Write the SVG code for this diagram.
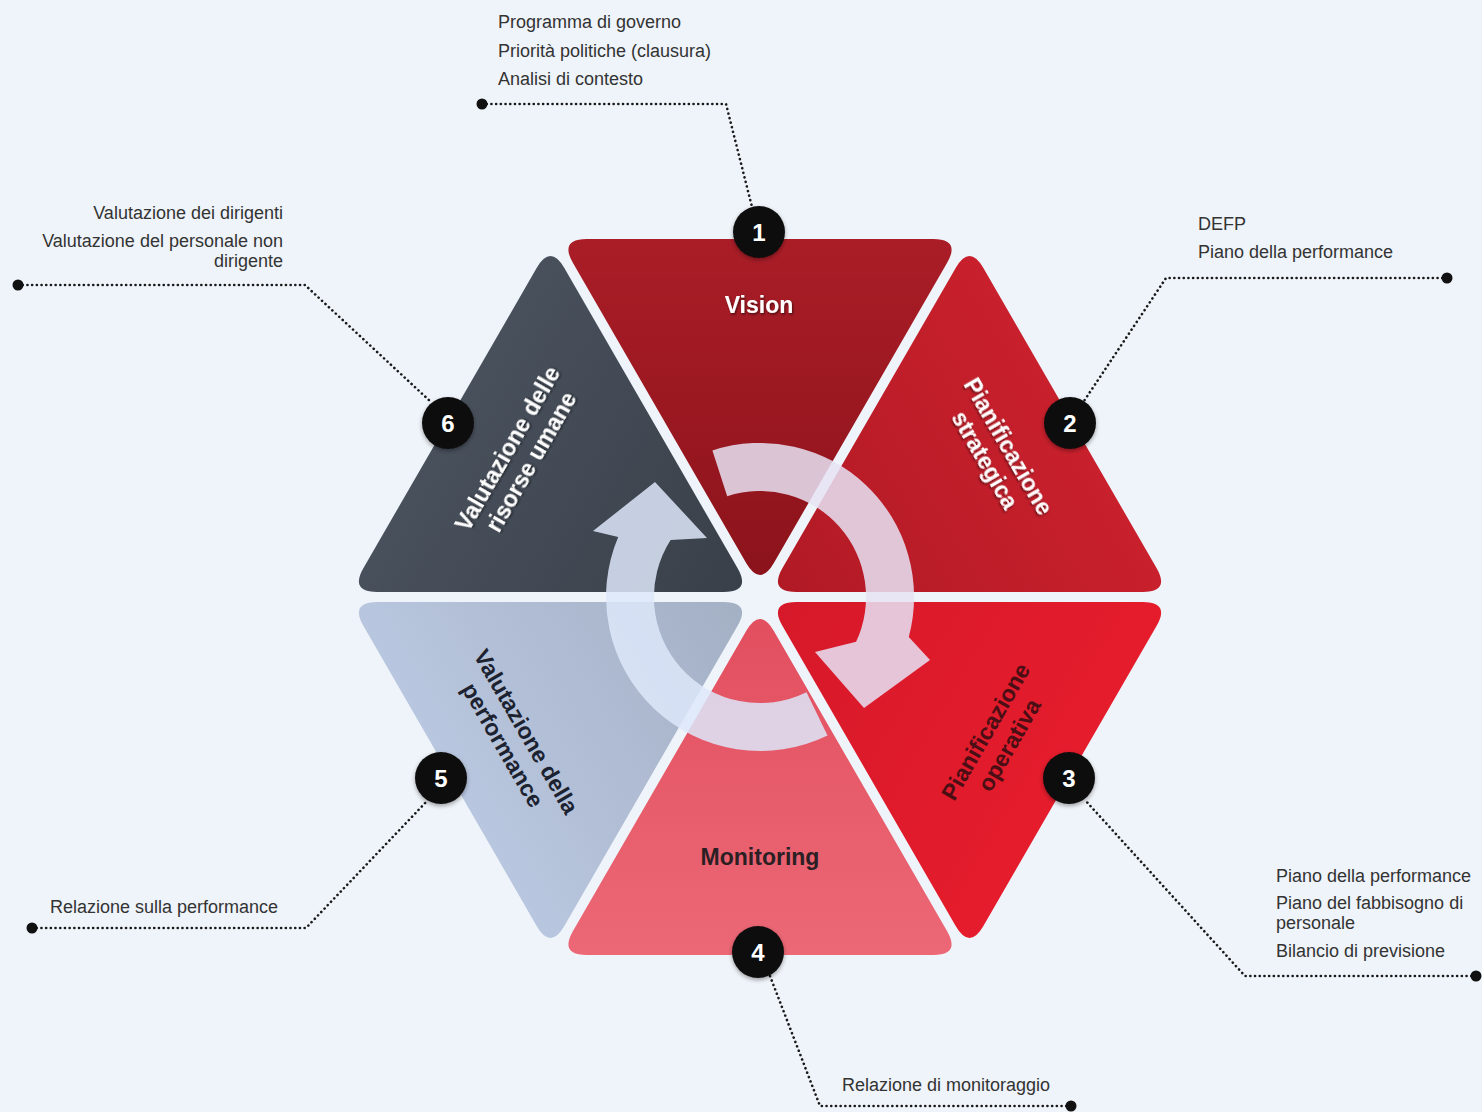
<svg xmlns="http://www.w3.org/2000/svg" xmlns:xlink="http://www.w3.org/1999/xlink" width="1482" height="1112" viewBox="0 0 1482 1112">
<style>
.note{font-family:"Liberation Sans",Arial,sans-serif;font-size:18px;fill:#333}
.lbl{font-family:"Liberation Sans",Arial,sans-serif;font-size:23px;font-weight:bold;text-anchor:middle}
.w{fill:#fff;filter:url(#sh)}
.num{font-family:"Liberation Sans",Arial,sans-serif;font-size:24px;font-weight:bold;fill:#fff;text-anchor:middle}
.badge{fill:#0b0b0b}
.lead{fill:none;stroke:#1a1a1a;stroke-width:2.6;stroke-dasharray:0.1 4.6;stroke-linecap:round}
.dot{fill:#111}
</style>
<defs>
<filter id="sh" x="-20%" y="-20%" width="140%" height="140%"><feDropShadow dx="1" dy="1.5" stdDeviation="1.2" flood-color="#000" flood-opacity="0.55"/></filter>
<filter id="bsh" x="-30%" y="-30%" width="160%" height="160%"><feDropShadow dx="0" dy="2" stdDeviation="2" flood-color="#000" flood-opacity="0.35"/></filter>
<path id="tri" d="M586.85 239.1 L933.15 239.1 Q960.85 239.1 947 263.09 L773.85 563.01 Q760 587 746.15 563.01 L573 263.09 Q559.15 239.1 586.85 239.1 Z"/>
<linearGradient id="g1" x1="0" y1="0" x2="0" y2="1"><stop offset="0" stop-color="#aa1d27"/><stop offset="1" stop-color="#8c131b"/></linearGradient>
<linearGradient id="g2" x1="0" y1="0" x2="0" y2="1"><stop offset="0" stop-color="#c8202c"/><stop offset="1" stop-color="#b11a25"/></linearGradient>
<linearGradient id="g3" x1="0" y1="0" x2="0" y2="1"><stop offset="0" stop-color="#e51c2c"/><stop offset="1" stop-color="#d6192a"/></linearGradient>
<linearGradient id="g4" x1="0" y1="0" x2="0" y2="1"><stop offset="0" stop-color="#ec6876"/><stop offset="1" stop-color="#e24f5f"/></linearGradient>
<linearGradient id="g5" x1="0" y1="0" x2="0" y2="1"><stop offset="0" stop-color="#b8c6df"/><stop offset="1" stop-color="#a4b0c4"/></linearGradient>
<linearGradient id="g6" x1="0" y1="0" x2="0" y2="1"><stop offset="0" stop-color="#48505c"/><stop offset="1" stop-color="#394049"/></linearGradient>
</defs>
<rect width="1482" height="1112" fill="#eff4fa"/>

<g id="connectors">
<path class="lead" d="M482 104 H726 L752 207"/>
<path class="lead" d="M1447 278 H1166 L1084 401"/>
<path class="lead" d="M1476 976 H1245 L1085 800"/>
<path class="lead" d="M1071 1106 H820 L770 976"/>
<path class="lead" d="M32 928 H306 L428 800"/>
<path class="lead" d="M18 285 H305 L431 402"/>
<circle class="dot" cx="482" cy="104" r="5.5"/>
<circle class="dot" cx="1447" cy="278" r="5.5"/>
<circle class="dot" cx="1476" cy="976" r="5.5"/>
<circle class="dot" cx="1071" cy="1106" r="5.5"/>
<circle class="dot" cx="32" cy="928" r="5.5"/>
<circle class="dot" cx="18" cy="285" r="5.5"/>
</g>

<g id="segments">
<use id="seg-vision" href="#tri" fill="url(#g1)"/>
<use id="seg-strategica" href="#tri" fill="url(#g2)" transform="rotate(60 760 597)"/>
<use id="seg-operativa" href="#tri" fill="url(#g3)" transform="rotate(120 760 597)"/>
<use id="seg-monitoring" href="#tri" fill="url(#g4)" transform="rotate(180 760 597)"/>
<use id="seg-performance" href="#tri" fill="url(#g5)" transform="rotate(240 760 597)"/>
<use id="seg-risorse" href="#tri" fill="url(#g6)" transform="rotate(300 760 597)"/>
</g>

<g id="cycle-arrows">
<path d="M712.4 450.5 A154 154 0 0 1 908.8 636.9 L930 660 L864 708 L815 652 L856.1 641.8 A106 106 0 0 0 727.2 496.2 Z" fill="#e6e2f3" fill-opacity="0.86"/>
<path d="M827.5 735.4 A154 154 0 0 1 618.2 537 L593 531 L655 482 L707 538 L670.6 540 A106 106 0 0 0 806.5 692.3 Z" fill="#dde8fa" fill-opacity="0.85"/>
</g>

<g id="node1">
<text class="lbl w" x="759" y="313">Vision</text>
<circle class="badge" cx="759" cy="232" r="26" filter="url(#bsh)"/>
<text class="num" x="759" y="241">1</text>
<text class="note" x="498" y="28">Programma di governo</text>
<text class="note" x="498" y="57">Priorità politiche (clausura)</text>
<text class="note" x="498" y="85">Analisi di contesto</text>
</g>

<g id="node2">
<g transform="translate(997 453) rotate(60)">
<text class="lbl w" x="0" y="-5">Pianificazione</text>
<text class="lbl w" x="0" y="22">strategica</text>
</g>
<circle class="badge" cx="1070" cy="423" r="26" filter="url(#bsh)"/>
<text class="num" x="1070" y="432">2</text>
<text class="note" x="1198" y="230">DEFP</text>
<text class="note" x="1198" y="258">Piano della performance</text>
</g>

<g id="node3">
<g transform="translate(997 738) rotate(-60)">
<text class="lbl" fill="#4a0e14" x="0" y="-5">Pianificazione</text>
<text class="lbl" fill="#4a0e14" x="0" y="22">operativa</text>
</g>
<circle class="badge" cx="1069" cy="778" r="26" filter="url(#bsh)"/>
<text class="num" x="1069" y="787">3</text>
<text class="note" x="1276" y="882">Piano della performance</text>
<text class="note" x="1276" y="909">Piano del fabbisogno di</text>
<text class="note" x="1276" y="929">personale</text>
<text class="note" x="1276" y="957">Bilancio di previsione</text>
</g>

<g id="node4">
<text class="lbl" fill="#2b1f24" x="760" y="865">Monitoring</text>
<circle class="badge" cx="758" cy="952" r="26" filter="url(#bsh)"/>
<text class="num" x="758" y="961">4</text>
<text class="note" x="842" y="1091">Relazione di monitoraggio</text>
</g>

<g id="node5">
<g transform="translate(515 738) rotate(60)">
<text class="lbl" fill="#1c2230" x="0" y="-5">Valutazione della</text>
<text class="lbl" fill="#1c2230" x="0" y="22">performance</text>
</g>
<circle class="badge" cx="441" cy="778" r="26" filter="url(#bsh)"/>
<text class="num" x="441" y="787">5</text>
<text class="note" x="50" y="913">Relazione sulla performance</text>
</g>

<g id="node6">
<g transform="translate(519 455) rotate(-60)">
<text class="lbl w" x="0" y="-5">Valutazione delle</text>
<text class="lbl w" x="0" y="22">risorse umane</text>
</g>
<circle class="badge" cx="448" cy="423" r="26" filter="url(#bsh)"/>
<text class="num" x="448" y="432">6</text>
<text class="note" x="283" y="219" text-anchor="end">Valutazione dei dirigenti</text>
<text class="note" x="283" y="247" text-anchor="end">Valutazione del personale non</text>
<text class="note" x="283" y="267" text-anchor="end">dirigente</text>
</g>
</svg>
